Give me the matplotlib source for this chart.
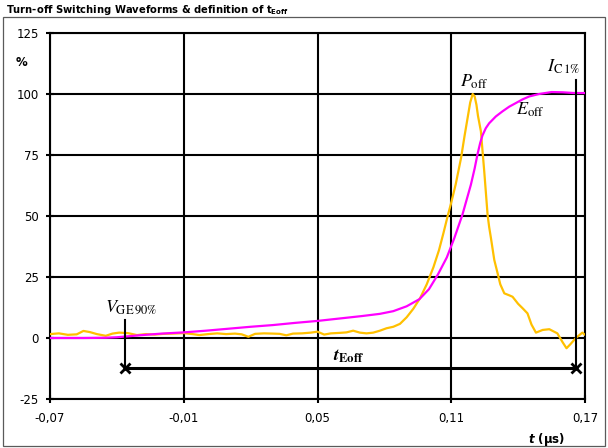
import matplotlib
matplotlib.use("Agg")
import matplotlib.pyplot as plt
from matplotlib.patches import Rectangle
from matplotlib.ticker import FixedLocator, FuncFormatter

# P_off waveform (yellow), % of peak
t_p = [-0.070, -0.066, -0.062, -0.058, -0.055, -0.052, -0.049, -0.045, -0.042, -0.039,
       -0.035, -0.031, -0.027, -0.023, -0.019, -0.015, -0.010, -0.006, -0.003, 0.001,
       0.005, 0.009, 0.013, 0.016, 0.019, 0.022, 0.026, 0.030, 0.033, 0.036,
       0.039, 0.043, 0.047, 0.050, 0.053, 0.056, 0.060, 0.063, 0.066, 0.069,
       0.072, 0.075, 0.078, 0.081, 0.084, 0.087, 0.090, 0.093, 0.096, 0.099,
       0.102, 0.1045, 0.1065, 0.1084, 0.110, 0.112, 0.1144, 0.116, 0.1173, 0.1185,
       0.1196, 0.1205, 0.1213, 0.122, 0.1233, 0.124, 0.1248, 0.1255, 0.1263, 0.127,
       0.1278, 0.1293, 0.1308, 0.132, 0.1338, 0.136, 0.1375, 0.140, 0.142, 0.1442,
       0.146, 0.148, 0.151, 0.154, 0.1576, 0.160, 0.1617, 0.1635, 0.1659, 0.1688,
       0.170]
p_off = [1.6, 1.9, 1.3, 1.5, 2.9, 2.4, 1.6, 0.9, 1.8, 2.2,
         2.0, 1.2, 1.6, 1.4, 1.7, 1.8, 2.0, 1.6, 1.2, 1.6,
         1.9, 1.6, 1.8, 1.5, 0.5, 1.7, 1.9, 1.8, 1.7, 1.1,
         1.8, 1.9, 2.2, 2.6, 1.4, 1.9, 2.1, 2.3, 3.0, 2.2,
         1.9, 2.2, 3.0, 4.0, 4.6, 5.8, 8.5, 12.0, 16.3, 22.0,
         29.0, 36.0, 43.0, 50.0, 55.5, 63.0, 73.8, 83.0, 90.0, 96.5,
         100.0, 99.0, 95.6, 91.0, 84.7, 77.0, 68.3, 60.0, 50.5, 45.5,
         41.0, 32.0, 26.5, 22.0, 18.3, 17.5, 16.9, 14.0, 12.2, 10.1,
         5.5, 2.2, 3.3, 3.6, 1.9, -1.8, -4.2, -2.5, 0.0, 2.2,
         1.3]

# E_off waveform (magenta), % of final value
t_e = [-0.070, -0.055, -0.045, -0.040, -0.035, -0.030, -0.020, -0.010, 0.000, 0.010,
       0.020, 0.030, 0.040, 0.050, 0.060, 0.070, 0.078, 0.084, 0.090, 0.0957,
       0.100, 0.104, 0.108, 0.1114, 0.115, 0.1188, 0.1205, 0.1218, 0.123, 0.124,
       0.1255, 0.127, 0.130, 0.133, 0.136, 0.139, 0.142, 0.145, 0.1494, 0.155,
       0.160, 0.165, 0.170]
e_off = [0.0, 0.0, 0.1, 0.3, 0.7, 1.1, 1.8, 2.3, 3.0, 3.8,
         4.6, 5.3, 6.2, 7.0, 8.0, 9.0, 9.9, 11.0, 13.0, 15.9,
         20.0, 26.0, 33.0, 41.0, 50.5, 62.8, 69.5, 75.4, 80.0, 83.0,
         86.0, 88.0, 90.8, 92.9, 94.8, 96.3, 97.8, 99.0, 100.0, 100.8,
         100.7, 100.4, 100.4]

# t_Eoff integration window
t_start = -0.0364   # V_GE 90 %
t_end = 0.166       # I_C 1 %
y_window = -12.3

x_ticks = [-0.07, -0.01, 0.05, 0.11, 0.17]
y_ticks = [-25, 0, 25, 50, 75, 100, 125]

W, H = 608, 448
fig = plt.figure(figsize=(W / 100, H / 100), dpi=100)
ax = fig.add_axes([50 / W, (H - 399) / H, 535 / W, 366 / H])

# chart frame
fig.patches.append(Rectangle((3 / W, 2 / H), 602 / W, 429 / H, transform=fig.transFigure,
                             fill=False, edgecolor="#5a5a5a", linewidth=0.9))

ax.set_xlim(-0.07, 0.17)
ax.set_ylim(-25, 125)
ax.xaxis.set_major_locator(FixedLocator(x_ticks))
ax.yaxis.set_major_locator(FixedLocator(y_ticks))
ax.xaxis.set_major_formatter(FuncFormatter(lambda v, _: f"{v:.2f}".replace(".", ",")))
ax.yaxis.set_major_formatter(FuncFormatter(lambda v, _: f"{v:.0f}"))
ax.grid(True, color="black", linewidth=1.5)
ax.set_axisbelow(True)
for s in ax.spines.values():
    s.set_linewidth(1.5)
ax.tick_params(direction="inout", length=6, width=1.5, labelsize=8.5, pad=5)
ax.tick_params(axis="x", pad=6)

line_kw = dict(linewidth=1.6, solid_joinstyle="round", solid_capstyle="round")
ax.plot(t_p, p_off, color="#FFC000", zorder=3, **line_kw)
ax.plot(t_e, e_off, color="#FF00FF", zorder=4, **line_kw)

# window markers
ax.plot([t_start, t_start], [7.4, y_window], color="black", linewidth=1.5, zorder=5)
ax.plot([t_end, t_end], [105.7, y_window], color="black", linewidth=1.5, zorder=5)
ax.plot([t_start, t_end], [y_window, y_window], color="black", linewidth=2.2,
        marker="x", markersize=7, markeredgewidth=2, zorder=6)

mf = "stix"
ax.text(0.1203, 103, r"$P_{\mathrm{off}}$", ha="center", va="baseline", fontsize=13,
        math_fontfamily=mf, zorder=7)
ax.text(0.1454, 91.4, r"$E_{\mathrm{off}}$", ha="center", va="baseline", fontsize=13,
        math_fontfamily=mf, zorder=7)
ax.text(0.1604, 109, r"$I_{\mathrm{C\,1\%}}$", ha="center", va="baseline", fontsize=13,
        math_fontfamily=mf, zorder=7)
ax.text(-0.0334, 10.8, r"$V_{\mathrm{GE\,90\%}}$", ha="center", va="baseline", fontsize=13,
        math_fontfamily=mf, zorder=7)
ax.text(0.0639, -9.3, r"$\mathbfit{t}_{\mathbf{Eoff}}$", ha="center", va="baseline",
        fontsize=13, math_fontfamily=mf, zorder=7)

fig.text(6 / W, 1 - 10 / H, r"Turn-off Switching Waveforms & definition of t$_{\mathbf{Eoff}}$",
         ha="left", va="center", fontsize=7.2, fontweight="bold", math_fontfamily="dejavusans")
fig.text(22 / W, 1 - 62 / H, "%", ha="center", va="center", fontsize=8.5, fontweight="bold")
fig.text(547 / W, 1 - 439 / H, r"$\mathbfit{t}$ (µs)", ha="center", va="center",
         fontsize=8.5, fontweight="bold", math_fontfamily="dejavusans")

fig.savefig("out.png", dpi=100)
